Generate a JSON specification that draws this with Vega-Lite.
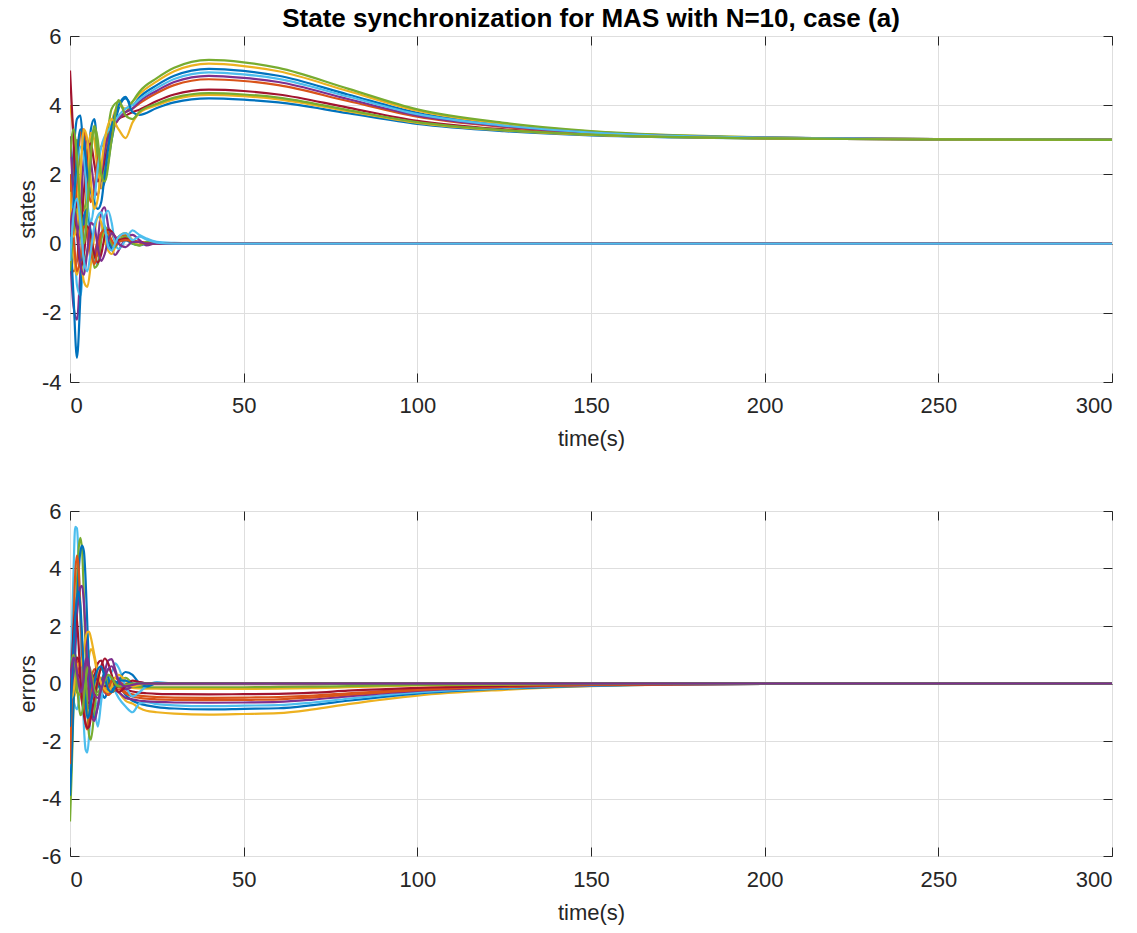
{
"$schema":"https://vega.github.io/schema/vega-lite/v6.json",
"padding":{"left":15,"top":5,"right":5,"bottom":5},
"spacing":49,
"config":{
 "view":{"stroke":"#262626","strokeWidth":1},
 "axis":{"domain":false,"tickSize":-9,"tickColor":"#262626","labelPadding":18,"labelFont":"Liberation Sans","labelFontSize":22,"labelColor":"#262626","labelExpr":"'' + datum.value","titleFont":"Liberation Sans","titleFontSize":22,"titleFontWeight":"normal","titleColor":"#262626","gridColor":"#dedede","gridWidth":1},
 "axisX":{"titlePadding":12,"labelPadding":22},
 "axisY":{"titlePadding":2}
},
"resolve":{"scale":{"color":"independent"}},
"datasets":{
"st":[
{"s":"U1","t":0,"v":1.0},{"s":"U1","t":1,"v":2.6},{"s":"U1","t":2,"v":3.6},{"s":"U1","t":3,"v":3.7},{"s":"U1","t":4,"v":2.6},{"s":"U1","t":5,"v":2.4},{"s":"U1","t":6,"v":3.3},{"s":"U1","t":7,"v":3.6},{"s":"U1","t":8,"v":2.6},{"s":"U1","t":9,"v":1.6},{"s":"U1","t":10,"v":1.8},{"s":"U1","t":12,"v":3.0},{"s":"U1","t":14,"v":3.9},{"s":"U1","t":16,"v":4.2},{"s":"U1","t":18,"v":4.0},{"s":"U1","t":20,"v":4.23},{"s":"U1","t":25,"v":4.58},{"s":"U1","t":30,"v":4.85},{"s":"U1","t":40,"v":5.05},{"s":"U1","t":50,"v":4.99},{"s":"U1","t":60,"v":4.85},{"s":"U1","t":80,"v":4.31},{"s":"U1","t":100,"v":3.78},{"s":"U1","t":125,"v":3.43},{"s":"U1","t":150,"v":3.23},{"s":"U1","t":200,"v":3.06},{"s":"U1","t":250,"v":3.02},{"s":"U1","t":300,"v":3.0},
{"s":"L1","t":0,"v":0.0},{"s":"L1","t":1,"v":-0.8},{"s":"L1","t":2,"v":-0.5},{"s":"L1","t":3,"v":0.6},{"s":"L1","t":4,"v":1.0},{"s":"L1","t":5,"v":0.3},{"s":"L1","t":6,"v":-0.5},{"s":"L1","t":7,"v":-0.3},{"s":"L1","t":8,"v":0.1},{"s":"L1","t":9,"v":0.3},{"s":"L1","t":10,"v":0.25},{"s":"L1","t":11,"v":0.45},{"s":"L1","t":12,"v":0.3},{"s":"L1","t":13,"v":0.1},{"s":"L1","t":14,"v":0.2},{"s":"L1","t":16,"v":0.25},{"s":"L1","t":18,"v":0.1},{"s":"L1","t":20,"v":0.05},{"s":"L1","t":22,"v":0.03},{"s":"L1","t":25,"v":0},{"s":"L1","t":30,"v":0},{"s":"L1","t":40,"v":0},{"s":"L1","t":300,"v":0},
{"s":"U2","t":0,"v":4.0},{"s":"U2","t":1,"v":3.2},{"s":"U2","t":2,"v":1.5},{"s":"U2","t":3,"v":0.2},{"s":"U2","t":4,"v":0.5},{"s":"U2","t":5,"v":2.0},{"s":"U2","t":6,"v":3.2},{"s":"U2","t":7,"v":3.0},{"s":"U2","t":8,"v":2.0},{"s":"U2","t":9,"v":1.6},{"s":"U2","t":10,"v":2.3},{"s":"U2","t":12,"v":3.5},{"s":"U2","t":14,"v":4.0},{"s":"U2","t":16,"v":3.9},{"s":"U2","t":18,"v":4.1},{"s":"U2","t":20,"v":4.32},{"s":"U2","t":25,"v":4.69},{"s":"U2","t":30,"v":4.98},{"s":"U2","t":40,"v":5.2},{"s":"U2","t":50,"v":5.13},{"s":"U2","t":60,"v":4.98},{"s":"U2","t":80,"v":4.41},{"s":"U2","t":100,"v":3.84},{"s":"U2","t":125,"v":3.46},{"s":"U2","t":150,"v":3.24},{"s":"U2","t":200,"v":3.07},{"s":"U2","t":250,"v":3.02},{"s":"U2","t":300,"v":3.0},
{"s":"L2","t":0,"v":-0.2},{"s":"L2","t":1,"v":-1.8},{"s":"L2","t":2,"v":-2.2},{"s":"L2","t":3,"v":-0.8},{"s":"L2","t":4,"v":0.6},{"s":"L2","t":5,"v":0.9},{"s":"L2","t":6,"v":0.2},{"s":"L2","t":7,"v":-0.5},{"s":"L2","t":8,"v":0.1},{"s":"L2","t":9,"v":0.9},{"s":"L2","t":10,"v":1.05},{"s":"L2","t":11,"v":0.5},{"s":"L2","t":12,"v":-0.1},{"s":"L2","t":13,"v":-0.33},{"s":"L2","t":14,"v":-0.2},{"s":"L2","t":16,"v":0.15},{"s":"L2","t":18,"v":0.25},{"s":"L2","t":20,"v":0.1},{"s":"L2","t":22,"v":-0.05},{"s":"L2","t":25,"v":0.02},{"s":"L2","t":30,"v":0},{"s":"L2","t":40,"v":0},{"s":"L2","t":300,"v":0},
{"s":"U3","t":0,"v":0.5},{"s":"U3","t":1,"v":2.0},{"s":"U3","t":2,"v":3.0},{"s":"U3","t":3,"v":2.2},{"s":"U3","t":4,"v":1.0},{"s":"U3","t":5,"v":1.5},{"s":"U3","t":6,"v":2.8},{"s":"U3","t":7,"v":3.3},{"s":"U3","t":8,"v":2.5},{"s":"U3","t":9,"v":1.8},{"s":"U3","t":10,"v":2.5},{"s":"U3","t":12,"v":3.9},{"s":"U3","t":14,"v":4.1},{"s":"U3","t":16,"v":3.8},{"s":"U3","t":18,"v":4.1},{"s":"U3","t":20,"v":4.39},{"s":"U3","t":25,"v":4.78},{"s":"U3","t":30,"v":5.08},{"s":"U3","t":40,"v":5.31},{"s":"U3","t":50,"v":5.24},{"s":"U3","t":60,"v":5.08},{"s":"U3","t":80,"v":4.48},{"s":"U3","t":100,"v":3.88},{"s":"U3","t":125,"v":3.49},{"s":"U3","t":150,"v":3.25},{"s":"U3","t":200,"v":3.07},{"s":"U3","t":250,"v":3.02},{"s":"U3","t":300,"v":3.0},
{"s":"L3","t":0,"v":1.5},{"s":"L3","t":1,"v":0.5},{"s":"L3","t":2,"v":-1.2},{"s":"L3","t":3,"v":-1.5},{"s":"L3","t":4,"v":-0.3},{"s":"L3","t":5,"v":0.7},{"s":"L3","t":6,"v":0.3},{"s":"L3","t":7,"v":-0.4},{"s":"L3","t":8,"v":-0.6},{"s":"L3","t":9,"v":0.2},{"s":"L3","t":10,"v":0.8},{"s":"L3","t":11,"v":0.95},{"s":"L3","t":12,"v":0.6},{"s":"L3","t":13,"v":0.0},{"s":"L3","t":14,"v":-0.15},{"s":"L3","t":16,"v":0.1},{"s":"L3","t":18,"v":0.38},{"s":"L3","t":20,"v":0.25},{"s":"L3","t":22,"v":0.15},{"s":"L3","t":25,"v":0.05},{"s":"L3","t":30,"v":0.02},{"s":"L3","t":40,"v":0},{"s":"L3","t":300,"v":0},
{"s":"U4","t":0,"v":5.0},{"s":"U4","t":1,"v":3.0},{"s":"U4","t":2,"v":0.8},{"s":"U4","t":3,"v":0.5},{"s":"U4","t":4,"v":1.5},{"s":"U4","t":5,"v":2.6},{"s":"U4","t":6,"v":2.9},{"s":"U4","t":7,"v":2.3},{"s":"U4","t":8,"v":1.8},{"s":"U4","t":9,"v":2.0},{"s":"U4","t":10,"v":2.4},{"s":"U4","t":12,"v":3.2},{"s":"U4","t":14,"v":3.6},{"s":"U4","t":16,"v":3.7},{"s":"U4","t":18,"v":3.8},{"s":"U4","t":20,"v":3.87},{"s":"U4","t":25,"v":4.12},{"s":"U4","t":30,"v":4.31},{"s":"U4","t":40,"v":4.45},{"s":"U4","t":50,"v":4.41},{"s":"U4","t":60,"v":4.31},{"s":"U4","t":80,"v":3.93},{"s":"U4","t":100,"v":3.55},{"s":"U4","t":125,"v":3.3},{"s":"U4","t":150,"v":3.16},{"s":"U4","t":200,"v":3.04},{"s":"U4","t":250,"v":3.01},{"s":"U4","t":300,"v":3.0},
{"s":"L4","t":0,"v":0.5},{"s":"L4","t":1,"v":-1.5},{"s":"L4","t":2,"v":-3.3},{"s":"L4","t":3,"v":-1.5},{"s":"L4","t":4,"v":0.8},{"s":"L4","t":5,"v":1.0},{"s":"L4","t":6,"v":0.3},{"s":"L4","t":7,"v":-0.4},{"s":"L4","t":8,"v":-0.3},{"s":"L4","t":9,"v":0.2},{"s":"L4","t":10,"v":0.35},{"s":"L4","t":11,"v":0.1},{"s":"L4","t":12,"v":-0.15},{"s":"L4","t":13,"v":-0.1},{"s":"L4","t":14,"v":0.05},{"s":"L4","t":16,"v":0.1},{"s":"L4","t":18,"v":0.0},{"s":"L4","t":20,"v":-0.05},{"s":"L4","t":22,"v":0},{"s":"L4","t":25,"v":0.02},{"s":"L4","t":30,"v":0},{"s":"L4","t":40,"v":0},{"s":"L4","t":300,"v":0},
{"s":"U5","t":0,"v":2.0},{"s":"U5","t":1,"v":1.0},{"s":"U5","t":2,"v":1.8},{"s":"U5","t":3,"v":3.2},{"s":"U5","t":4,"v":3.3},{"s":"U5","t":5,"v":2.0},{"s":"U5","t":6,"v":1.2},{"s":"U5","t":7,"v":1.6},{"s":"U5","t":8,"v":2.4},{"s":"U5","t":9,"v":2.8},{"s":"U5","t":10,"v":2.9},{"s":"U5","t":12,"v":3.3},{"s":"U5","t":14,"v":3.6},{"s":"U5","t":16,"v":3.8},{"s":"U5","t":18,"v":3.9},{"s":"U5","t":20,"v":4.05},{"s":"U5","t":25,"v":4.35},{"s":"U5","t":30,"v":4.58},{"s":"U5","t":40,"v":4.75},{"s":"U5","t":50,"v":4.7},{"s":"U5","t":60,"v":4.58},{"s":"U5","t":80,"v":4.12},{"s":"U5","t":100,"v":3.67},{"s":"U5","t":125,"v":3.37},{"s":"U5","t":150,"v":3.19},{"s":"U5","t":200,"v":3.05},{"s":"U5","t":250,"v":3.02},{"s":"U5","t":300,"v":3.0},
{"s":"L5","t":0,"v":0.8},{"s":"L5","t":1,"v":-0.3},{"s":"L5","t":2,"v":-0.9},{"s":"L5","t":3,"v":-0.5},{"s":"L5","t":4,"v":-1.1},{"s":"L5","t":5,"v":-1.25},{"s":"L5","t":6,"v":-0.6},{"s":"L5","t":7,"v":0.2},{"s":"L5","t":8,"v":0.8},{"s":"L5","t":9,"v":0.6},{"s":"L5","t":10,"v":0.1},{"s":"L5","t":11,"v":-0.2},{"s":"L5","t":12,"v":-0.3},{"s":"L5","t":13,"v":-0.1},{"s":"L5","t":14,"v":0.2},{"s":"L5","t":16,"v":0.3},{"s":"L5","t":18,"v":0.1},{"s":"L5","t":20,"v":-0.05},{"s":"L5","t":22,"v":0.05},{"s":"L5","t":25,"v":0},{"s":"L5","t":30,"v":0},{"s":"L5","t":40,"v":0},{"s":"L5","t":300,"v":0},
{"s":"U6","t":0,"v":3.1},{"s":"U6","t":1,"v":1.5},{"s":"U6","t":2,"v":0.3},{"s":"U6","t":3,"v":1.0},{"s":"U6","t":4,"v":2.5},{"s":"U6","t":5,"v":3.0},{"s":"U6","t":6,"v":2.4},{"s":"U6","t":7,"v":1.6},{"s":"U6","t":8,"v":1.4},{"s":"U6","t":9,"v":2.0},{"s":"U6","t":10,"v":2.7},{"s":"U6","t":12,"v":3.3},{"s":"U6","t":14,"v":3.6},{"s":"U6","t":16,"v":3.8},{"s":"U6","t":18,"v":3.9},{"s":"U6","t":20,"v":4.11},{"s":"U6","t":25,"v":4.42},{"s":"U6","t":30,"v":4.67},{"s":"U6","t":40,"v":4.85},{"s":"U6","t":50,"v":4.79},{"s":"U6","t":60,"v":4.67},{"s":"U6","t":80,"v":4.18},{"s":"U6","t":100,"v":3.7},{"s":"U6","t":125,"v":3.39},{"s":"U6","t":150,"v":3.2},{"s":"U6","t":200,"v":3.06},{"s":"U6","t":250,"v":3.02},{"s":"U6","t":300,"v":3.0},
{"s":"L6","t":0,"v":-0.8},{"s":"L6","t":1,"v":0.3},{"s":"L6","t":2,"v":1.0},{"s":"L6","t":3,"v":0.4},{"s":"L6","t":4,"v":-0.6},{"s":"L6","t":5,"v":-0.2},{"s":"L6","t":6,"v":0.2},{"s":"L6","t":7,"v":-0.7},{"s":"L6","t":8,"v":-0.6},{"s":"L6","t":9,"v":0.1},{"s":"L6","t":10,"v":0.5},{"s":"L6","t":11,"v":0.3},{"s":"L6","t":12,"v":0.0},{"s":"L6","t":13,"v":-0.1},{"s":"L6","t":14,"v":0.1},{"s":"L6","t":16,"v":0.2},{"s":"L6","t":18,"v":0.0},{"s":"L6","t":20,"v":-0.05},{"s":"L6","t":22,"v":0.05},{"s":"L6","t":25,"v":0},{"s":"L6","t":30,"v":0},{"s":"L6","t":40,"v":0},{"s":"L6","t":300,"v":0},
{"s":"U7","t":0,"v":0.0},{"s":"U7","t":1,"v":1.2},{"s":"U7","t":2,"v":2.2},{"s":"U7","t":3,"v":2.8},{"s":"U7","t":4,"v":2.5},{"s":"U7","t":5,"v":1.2},{"s":"U7","t":6,"v":0.6},{"s":"U7","t":7,"v":1.2},{"s":"U7","t":8,"v":2.2},{"s":"U7","t":9,"v":2.8},{"s":"U7","t":10,"v":3.1},{"s":"U7","t":12,"v":3.4},{"s":"U7","t":14,"v":3.7},{"s":"U7","t":16,"v":3.9},{"s":"U7","t":18,"v":4.0},{"s":"U7","t":20,"v":4.17},{"s":"U7","t":25,"v":4.5},{"s":"U7","t":30,"v":4.76},{"s":"U7","t":40,"v":4.95},{"s":"U7","t":50,"v":4.89},{"s":"U7","t":60,"v":4.76},{"s":"U7","t":80,"v":4.25},{"s":"U7","t":100,"v":3.74},{"s":"U7","t":125,"v":3.41},{"s":"U7","t":150,"v":3.21},{"s":"U7","t":200,"v":3.06},{"s":"U7","t":250,"v":3.02},{"s":"U7","t":300,"v":3.0},
{"s":"L7","t":0,"v":0.2},{"s":"L7","t":1,"v":1.0},{"s":"L7","t":2,"v":0.3},{"s":"L7","t":3,"v":-0.7},{"s":"L7","t":4,"v":-0.3},{"s":"L7","t":5,"v":0.5},{"s":"L7","t":6,"v":0.2},{"s":"L7","t":7,"v":-0.3},{"s":"L7","t":8,"v":-0.55},{"s":"L7","t":9,"v":-0.3},{"s":"L7","t":10,"v":0.2},{"s":"L7","t":11,"v":0.4},{"s":"L7","t":12,"v":0.35},{"s":"L7","t":13,"v":0.2},{"s":"L7","t":14,"v":0.1},{"s":"L7","t":16,"v":0.15},{"s":"L7","t":18,"v":0.05},{"s":"L7","t":20,"v":0.05},{"s":"L7","t":22,"v":0},{"s":"L7","t":25,"v":0},{"s":"L7","t":30,"v":0},{"s":"L7","t":40,"v":0},{"s":"L7","t":300,"v":0},
{"s":"U8","t":0,"v":-0.5},{"s":"U8","t":1,"v":1.0},{"s":"U8","t":2,"v":2.5},{"s":"U8","t":3,"v":3.3},{"s":"U8","t":4,"v":3.0},{"s":"U8","t":5,"v":2.0},{"s":"U8","t":6,"v":1.5},{"s":"U8","t":7,"v":1.2},{"s":"U8","t":8,"v":1.0},{"s":"U8","t":9,"v":1.2},{"s":"U8","t":10,"v":2.0},{"s":"U8","t":12,"v":3.4},{"s":"U8","t":14,"v":4.0},{"s":"U8","t":16,"v":4.24},{"s":"U8","t":18,"v":3.8},{"s":"U8","t":20,"v":3.72},{"s":"U8","t":25,"v":3.92},{"s":"U8","t":30,"v":4.08},{"s":"U8","t":40,"v":4.2},{"s":"U8","t":50,"v":4.16},{"s":"U8","t":60,"v":4.08},{"s":"U8","t":80,"v":3.77},{"s":"U8","t":100,"v":3.46},{"s":"U8","t":125,"v":3.25},{"s":"U8","t":150,"v":3.13},{"s":"U8","t":200,"v":3.04},{"s":"U8","t":250,"v":3.01},{"s":"U8","t":300,"v":3.0},
{"s":"L8","t":0,"v":1.0},{"s":"L8","t":1,"v":0.2},{"s":"L8","t":2,"v":-0.8},{"s":"L8","t":3,"v":-0.4},{"s":"L8","t":4,"v":0.5},{"s":"L8","t":5,"v":0.4},{"s":"L8","t":6,"v":-0.2},{"s":"L8","t":7,"v":-0.6},{"s":"L8","t":8,"v":-0.2},{"s":"L8","t":9,"v":0.3},{"s":"L8","t":10,"v":0.4},{"s":"L8","t":11,"v":0.3},{"s":"L8","t":12,"v":0.1},{"s":"L8","t":13,"v":-0.05},{"s":"L8","t":14,"v":0.05},{"s":"L8","t":16,"v":0.1},{"s":"L8","t":18,"v":0.08},{"s":"L8","t":20,"v":0.03},{"s":"L8","t":22,"v":0},{"s":"L8","t":25,"v":0},{"s":"L8","t":30,"v":0},{"s":"L8","t":40,"v":0},{"s":"L8","t":300,"v":0},
{"s":"U9","t":0,"v":1.5},{"s":"U9","t":1,"v":0.2},{"s":"U9","t":2,"v":0.5},{"s":"U9","t":3,"v":2.0},{"s":"U9","t":4,"v":3.3},{"s":"U9","t":5,"v":3.0},{"s":"U9","t":6,"v":1.8},{"s":"U9","t":7,"v":1.0},{"s":"U9","t":8,"v":1.3},{"s":"U9","t":9,"v":2.2},{"s":"U9","t":10,"v":3.0},{"s":"U9","t":12,"v":3.6},{"s":"U9","t":14,"v":3.3},{"s":"U9","t":16,"v":3.05},{"s":"U9","t":18,"v":3.5},{"s":"U9","t":20,"v":3.78},{"s":"U9","t":25,"v":4.0},{"s":"U9","t":30,"v":4.17},{"s":"U9","t":40,"v":4.3},{"s":"U9","t":50,"v":4.26},{"s":"U9","t":60,"v":4.17},{"s":"U9","t":80,"v":3.83},{"s":"U9","t":100,"v":3.49},{"s":"U9","t":125,"v":3.27},{"s":"U9","t":150,"v":3.14},{"s":"U9","t":200,"v":3.04},{"s":"U9","t":250,"v":3.01},{"s":"U9","t":300,"v":3.0},
{"s":"L9","t":0,"v":0.3},{"s":"L9","t":1,"v":1.0},{"s":"L9","t":2,"v":0.5},{"s":"L9","t":3,"v":-0.6},{"s":"L9","t":4,"v":-0.9},{"s":"L9","t":5,"v":-0.2},{"s":"L9","t":6,"v":0.6},{"s":"L9","t":7,"v":0.5},{"s":"L9","t":8,"v":-0.1},{"s":"L9","t":9,"v":-0.5},{"s":"L9","t":10,"v":-0.3},{"s":"L9","t":11,"v":0.1},{"s":"L9","t":12,"v":0.3},{"s":"L9","t":13,"v":0.2},{"s":"L9","t":14,"v":0.0},{"s":"L9","t":16,"v":-0.1},{"s":"L9","t":18,"v":0.05},{"s":"L9","t":20,"v":0.05},{"s":"L9","t":22,"v":0},{"s":"L9","t":25,"v":0},{"s":"L9","t":30,"v":0},{"s":"L9","t":40,"v":0},{"s":"L9","t":300,"v":0},
{"s":"U10","t":0,"v":2.5},{"s":"U10","t":1,"v":3.3},{"s":"U10","t":2,"v":2.5},{"s":"U10","t":3,"v":1.0},{"s":"U10","t":4,"v":0.0},{"s":"U10","t":5,"v":1.0},{"s":"U10","t":6,"v":2.5},{"s":"U10","t":7,"v":3.4},{"s":"U10","t":8,"v":3.0},{"s":"U10","t":9,"v":2.0},{"s":"U10","t":10,"v":1.8},{"s":"U10","t":12,"v":3.0},{"s":"U10","t":14,"v":4.15},{"s":"U10","t":16,"v":3.7},{"s":"U10","t":18,"v":3.6},{"s":"U10","t":20,"v":3.81},{"s":"U10","t":25,"v":4.04},{"s":"U10","t":30,"v":4.22},{"s":"U10","t":40,"v":4.35},{"s":"U10","t":50,"v":4.31},{"s":"U10","t":60,"v":4.22},{"s":"U10","t":80,"v":3.86},{"s":"U10","t":100,"v":3.51},{"s":"U10","t":125,"v":3.28},{"s":"U10","t":150,"v":3.15},{"s":"U10","t":200,"v":3.04},{"s":"U10","t":250,"v":3.01},{"s":"U10","t":300,"v":3.0},
{"s":"L10","t":0,"v":-0.5},{"s":"L10","t":1,"v":0.8},{"s":"L10","t":2,"v":1.3},{"s":"L10","t":3,"v":0.6},{"s":"L10","t":4,"v":-0.5},{"s":"L10","t":5,"v":-0.8},{"s":"L10","t":6,"v":-0.2},{"s":"L10","t":7,"v":0.5},{"s":"L10","t":8,"v":0.8},{"s":"L10","t":9,"v":0.9},{"s":"L10","t":10,"v":0.5},{"s":"L10","t":11,"v":-0.1},{"s":"L10","t":12,"v":-0.2},{"s":"L10","t":13,"v":0.0},{"s":"L10","t":14,"v":0.2},{"s":"L10","t":16,"v":0.3},{"s":"L10","t":18,"v":0.1},{"s":"L10","t":20,"v":0.2},{"s":"L10","t":22,"v":0.12},{"s":"L10","t":25,"v":0.03},{"s":"L10","t":30,"v":0},{"s":"L10","t":40,"v":0},{"s":"L10","t":300,"v":0}
],
"er":[
{"s":"E1","t":0,"v":-0.5},{"s":"E1","t":1,"v":0.3},{"s":"E1","t":2,"v":0.9},{"s":"E1","t":3,"v":0.5},{"s":"E1","t":4,"v":0.2},{"s":"E1","t":5,"v":0.6},{"s":"E1","t":6,"v":1.2},{"s":"E1","t":7,"v":0.9},{"s":"E1","t":8,"v":0.2},{"s":"E1","t":9,"v":-0.3},{"s":"E1","t":10,"v":-0.2},{"s":"E1","t":11,"v":0.1},{"s":"E1","t":12,"v":0.0},{"s":"E1","t":14,"v":-0.3},{"s":"E1","t":16,"v":-0.6},{"s":"E1","t":18,"v":-0.7},{"s":"E1","t":20,"v":-0.85},{"s":"E1","t":22,"v":-0.95},{"s":"E1","t":25,"v":-1.0},{"s":"E1","t":30,"v":-1.05},{"s":"E1","t":40,"v":-1.08},{"s":"E1","t":50,"v":-1.06},{"s":"E1","t":60,"v":-1.03},{"s":"E1","t":70,"v":-0.9},{"s":"E1","t":80,"v":-0.72},{"s":"E1","t":100,"v":-0.42},{"s":"E1","t":125,"v":-0.22},{"s":"E1","t":150,"v":-0.09},{"s":"E1","t":200,"v":-0.01},{"s":"E1","t":300,"v":0},
{"s":"E2","t":0,"v":-1.0},{"s":"E2","t":1,"v":-0.2},{"s":"E2","t":2,"v":0.4},{"s":"E2","t":3,"v":0.2},{"s":"E2","t":4,"v":-0.3},{"s":"E2","t":5,"v":-0.4},{"s":"E2","t":6,"v":0.0},{"s":"E2","t":7,"v":0.3},{"s":"E2","t":8,"v":0.0},{"s":"E2","t":9,"v":-0.3},{"s":"E2","t":10,"v":-0.5},{"s":"E2","t":11,"v":-0.2},{"s":"E2","t":12,"v":0.1},{"s":"E2","t":14,"v":0.0},{"s":"E2","t":16,"v":-0.4},{"s":"E2","t":18,"v":-0.6},{"s":"E2","t":20,"v":-0.7},{"s":"E2","t":22,"v":-0.76},{"s":"E2","t":25,"v":-0.82},{"s":"E2","t":30,"v":-0.87},{"s":"E2","t":40,"v":-0.9},{"s":"E2","t":50,"v":-0.88},{"s":"E2","t":60,"v":-0.86},{"s":"E2","t":70,"v":-0.75},{"s":"E2","t":80,"v":-0.6},{"s":"E2","t":100,"v":-0.35},{"s":"E2","t":125,"v":-0.18},{"s":"E2","t":150,"v":-0.08},{"s":"E2","t":200,"v":-0.01},{"s":"E2","t":300,"v":0},
{"s":"E3","t":0,"v":0.0},{"s":"E3","t":1,"v":-0.6},{"s":"E3","t":2,"v":-0.9},{"s":"E3","t":3,"v":-0.3},{"s":"E3","t":4,"v":0.4},{"s":"E3","t":5,"v":0.6},{"s":"E3","t":6,"v":0.1},{"s":"E3","t":7,"v":-0.5},{"s":"E3","t":8,"v":-0.8},{"s":"E3","t":9,"v":-0.5},{"s":"E3","t":10,"v":0.1},{"s":"E3","t":11,"v":0.3},{"s":"E3","t":12,"v":0.0},{"s":"E3","t":14,"v":-0.5},{"s":"E3","t":16,"v":-0.8},{"s":"E3","t":18,"v":-1.0},{"s":"E3","t":20,"v":-0.7},{"s":"E3","t":22,"v":-0.65},{"s":"E3","t":25,"v":-0.72},{"s":"E3","t":30,"v":-0.76},{"s":"E3","t":40,"v":-0.79},{"s":"E3","t":50,"v":-0.77},{"s":"E3","t":60,"v":-0.75},{"s":"E3","t":70,"v":-0.66},{"s":"E3","t":80,"v":-0.53},{"s":"E3","t":100,"v":-0.31},{"s":"E3","t":125,"v":-0.16},{"s":"E3","t":150,"v":-0.07},{"s":"E3","t":200,"v":-0.01},{"s":"E3","t":300,"v":0},
{"s":"E4","t":0,"v":-0.3},{"s":"E4","t":1,"v":0.4},{"s":"E4","t":2,"v":0.6},{"s":"E4","t":3,"v":0.1},{"s":"E4","t":4,"v":-0.6},{"s":"E4","t":5,"v":-0.9},{"s":"E4","t":6,"v":-0.5},{"s":"E4","t":7,"v":0.1},{"s":"E4","t":8,"v":0.3},{"s":"E4","t":9,"v":0.0},{"s":"E4","t":10,"v":-0.3},{"s":"E4","t":11,"v":-0.4},{"s":"E4","t":12,"v":-0.2},{"s":"E4","t":14,"v":-0.3},{"s":"E4","t":16,"v":-0.5},{"s":"E4","t":18,"v":-0.55},{"s":"E4","t":20,"v":-0.6},{"s":"E4","t":22,"v":-0.62},{"s":"E4","t":25,"v":-0.64},{"s":"E4","t":30,"v":-0.66},{"s":"E4","t":40,"v":-0.67},{"s":"E4","t":50,"v":-0.66},{"s":"E4","t":60,"v":-0.64},{"s":"E4","t":70,"v":-0.56},{"s":"E4","t":80,"v":-0.45},{"s":"E4","t":100,"v":-0.26},{"s":"E4","t":125,"v":-0.13},{"s":"E4","t":150,"v":-0.06},{"s":"E4","t":200,"v":-0.01},{"s":"E4","t":300,"v":0},
{"s":"E5","t":0,"v":-2.0},{"s":"E5","t":1,"v":-0.5},{"s":"E5","t":2,"v":0.6},{"s":"E5","t":3,"v":0.9},{"s":"E5","t":4,"v":0.3},{"s":"E5","t":5,"v":-0.4},{"s":"E5","t":6,"v":-0.6},{"s":"E5","t":7,"v":-0.2},{"s":"E5","t":8,"v":0.2},{"s":"E5","t":9,"v":0.1},{"s":"E5","t":10,"v":-0.2},{"s":"E5","t":11,"v":-0.4},{"s":"E5","t":12,"v":-0.3},{"s":"E5","t":14,"v":-0.2},{"s":"E5","t":16,"v":-0.35},{"s":"E5","t":18,"v":-0.45},{"s":"E5","t":20,"v":-0.5},{"s":"E5","t":22,"v":-0.53},{"s":"E5","t":25,"v":-0.55},{"s":"E5","t":30,"v":-0.57},{"s":"E5","t":40,"v":-0.58},{"s":"E5","t":50,"v":-0.57},{"s":"E5","t":60,"v":-0.55},{"s":"E5","t":70,"v":-0.48},{"s":"E5","t":80,"v":-0.39},{"s":"E5","t":100,"v":-0.23},{"s":"E5","t":125,"v":-0.12},{"s":"E5","t":150,"v":-0.05},{"s":"E5","t":200,"v":-0.01},{"s":"E5","t":300,"v":0},
{"s":"E6","t":0,"v":0.5},{"s":"E6","t":1,"v":1.2},{"s":"E6","t":2,"v":0.7},{"s":"E6","t":3,"v":-0.3},{"s":"E6","t":4,"v":-0.9},{"s":"E6","t":5,"v":-0.6},{"s":"E6","t":6,"v":0.1},{"s":"E6","t":7,"v":0.5},{"s":"E6","t":8,"v":0.3},{"s":"E6","t":9,"v":-0.1},{"s":"E6","t":10,"v":-0.3},{"s":"E6","t":11,"v":-0.1},{"s":"E6","t":12,"v":0.1},{"s":"E6","t":14,"v":-0.1},{"s":"E6","t":16,"v":-0.3},{"s":"E6","t":18,"v":-0.38},{"s":"E6","t":20,"v":-0.42},{"s":"E6","t":22,"v":-0.45},{"s":"E6","t":25,"v":-0.47},{"s":"E6","t":30,"v":-0.49},{"s":"E6","t":40,"v":-0.5},{"s":"E6","t":50,"v":-0.49},{"s":"E6","t":60,"v":-0.47},{"s":"E6","t":70,"v":-0.42},{"s":"E6","t":80,"v":-0.34},{"s":"E6","t":100,"v":-0.2},{"s":"E6","t":125,"v":-0.1},{"s":"E6","t":150,"v":-0.04},{"s":"E6","t":200,"v":0},{"s":"E6","t":300,"v":0},
{"s":"E7","t":0,"v":-0.6},{"s":"E7","t":1,"v":0.2},{"s":"E7","t":2,"v":0.9},{"s":"E7","t":3,"v":0.6},{"s":"E7","t":4,"v":-0.2},{"s":"E7","t":5,"v":-0.7},{"s":"E7","t":6,"v":-0.5},{"s":"E7","t":7,"v":0.2},{"s":"E7","t":8,"v":0.7},{"s":"E7","t":9,"v":0.8},{"s":"E7","t":10,"v":0.4},{"s":"E7","t":11,"v":-0.1},{"s":"E7","t":12,"v":-0.3},{"s":"E7","t":14,"v":-0.1},{"s":"E7","t":16,"v":-0.2},{"s":"E7","t":18,"v":-0.28},{"s":"E7","t":20,"v":-0.32},{"s":"E7","t":22,"v":-0.34},{"s":"E7","t":25,"v":-0.36},{"s":"E7","t":30,"v":-0.37},{"s":"E7","t":40,"v":-0.38},{"s":"E7","t":50,"v":-0.37},{"s":"E7","t":60,"v":-0.36},{"s":"E7","t":70,"v":-0.32},{"s":"E7","t":80,"v":-0.25},{"s":"E7","t":100,"v":-0.15},{"s":"E7","t":125,"v":-0.08},{"s":"E7","t":150,"v":-0.03},{"s":"E7","t":200,"v":0},{"s":"E7","t":300,"v":0},
{"s":"E8","t":0,"v":-0.2},{"s":"E8","t":1,"v":-0.5},{"s":"E8","t":2,"v":-0.1},{"s":"E8","t":3,"v":0.3},{"s":"E8","t":4,"v":0.2},{"s":"E8","t":5,"v":-0.2},{"s":"E8","t":6,"v":-0.4},{"s":"E8","t":7,"v":-0.1},{"s":"E8","t":8,"v":0.2},{"s":"E8","t":9,"v":0.2},{"s":"E8","t":10,"v":0.0},{"s":"E8","t":11,"v":-0.2},{"s":"E8","t":12,"v":-0.15},{"s":"E8","t":14,"v":0.0},{"s":"E8","t":16,"v":-0.1},{"s":"E8","t":18,"v":-0.15},{"s":"E8","t":20,"v":-0.17},{"s":"E8","t":22,"v":-0.18},{"s":"E8","t":25,"v":-0.18},{"s":"E8","t":30,"v":-0.19},{"s":"E8","t":40,"v":-0.19},{"s":"E8","t":50,"v":-0.19},{"s":"E8","t":60,"v":-0.18},{"s":"E8","t":70,"v":-0.16},{"s":"E8","t":80,"v":-0.13},{"s":"E8","t":100,"v":-0.07},{"s":"E8","t":125,"v":-0.04},{"s":"E8","t":150,"v":-0.02},{"s":"E8","t":200,"v":0},{"s":"E8","t":300,"v":0},
{"s":"E9","t":0,"v":0.4},{"s":"E9","t":1,"v":0.1},{"s":"E9","t":2,"v":-0.3},{"s":"E9","t":3,"v":-0.4},{"s":"E9","t":4,"v":0.0},{"s":"E9","t":5,"v":0.3},{"s":"E9","t":6,"v":0.2},{"s":"E9","t":7,"v":-0.2},{"s":"E9","t":8,"v":-0.3},{"s":"E9","t":9,"v":-0.1},{"s":"E9","t":10,"v":0.1},{"s":"E9","t":11,"v":0.1},{"s":"E9","t":12,"v":0.0},{"s":"E9","t":14,"v":-0.1},{"s":"E9","t":16,"v":-0.1},{"s":"E9","t":18,"v":-0.12},{"s":"E9","t":20,"v":-0.12},{"s":"E9","t":22,"v":-0.13},{"s":"E9","t":25,"v":-0.13},{"s":"E9","t":30,"v":-0.13},{"s":"E9","t":40,"v":-0.13},{"s":"E9","t":50,"v":-0.13},{"s":"E9","t":60,"v":-0.12},{"s":"E9","t":70,"v":-0.11},{"s":"E9","t":80,"v":-0.09},{"s":"E9","t":100,"v":-0.05},{"s":"E9","t":125,"v":-0.03},{"s":"E9","t":150,"v":-0.01},{"s":"E9","t":200,"v":0},{"s":"E9","t":300,"v":0},
{"s":"E10","t":0,"v":-0.3},{"s":"E10","t":1,"v":0.0},{"s":"E10","t":2,"v":0.3},{"s":"E10","t":3,"v":0.2},{"s":"E10","t":4,"v":-0.1},{"s":"E10","t":5,"v":-0.2},{"s":"E10","t":6,"v":0.0},{"s":"E10","t":7,"v":0.2},{"s":"E10","t":8,"v":0.1},{"s":"E10","t":9,"v":-0.1},{"s":"E10","t":10,"v":-0.1},{"s":"E10","t":11,"v":0.0},{"s":"E10","t":12,"v":0.05},{"s":"E10","t":14,"v":0.0},{"s":"E10","t":16,"v":-0.01},{"s":"E10","t":18,"v":-0.02},{"s":"E10","t":20,"v":-0.02},{"s":"E10","t":22,"v":-0.02},{"s":"E10","t":25,"v":-0.02},{"s":"E10","t":30,"v":-0.02},{"s":"E10","t":40,"v":-0.02},{"s":"E10","t":50,"v":-0.02},{"s":"E10","t":60,"v":-0.02},{"s":"E10","t":70,"v":-0.02},{"s":"E10","t":80,"v":-0.01},{"s":"E10","t":100,"v":-0.01},{"s":"E10","t":125,"v":0},{"s":"E10","t":150,"v":0},{"s":"E10","t":200,"v":0},{"s":"E10","t":300,"v":0},
{"s":"E11","t":0,"v":-0.5},{"s":"E11","t":0.5,"v":1.5},{"s":"E11","t":1,"v":3.8},{"s":"E11","t":1.5,"v":5.45},{"s":"E11","t":2,"v":5.4},{"s":"E11","t":2.5,"v":4.2},{"s":"E11","t":3,"v":2.0},{"s":"E11","t":3.5,"v":0.0},{"s":"E11","t":4,"v":-1.5},{"s":"E11","t":4.5,"v":-2.3},{"s":"E11","t":5,"v":-2.4},{"s":"E11","t":5.5,"v":-1.8},{"s":"E11","t":6,"v":-0.8},{"s":"E11","t":7,"v":-0.9},{"s":"E11","t":8,"v":-1.5},{"s":"E11","t":9,"v":-0.6},{"s":"E11","t":10,"v":0.3},{"s":"E11","t":11,"v":0.5},{"s":"E11","t":12,"v":0.4},{"s":"E11","t":13,"v":0.7},{"s":"E11","t":14,"v":0.55},{"s":"E11","t":16,"v":-0.1},{"s":"E11","t":18,"v":-0.45},{"s":"E11","t":20,"v":-0.3},{"s":"E11","t":22,"v":-0.1},{"s":"E11","t":25,"v":0.05},{"s":"E11","t":30,"v":0},{"s":"E11","t":300,"v":0},
{"s":"E12","t":0,"v":-4.8},{"s":"E12","t":0.5,"v":-3.0},{"s":"E12","t":1,"v":-0.8},{"s":"E12","t":1.5,"v":1.5},{"s":"E12","t":2,"v":3.5},{"s":"E12","t":2.5,"v":4.7},{"s":"E12","t":3,"v":5.07},{"s":"E12","t":3.5,"v":4.6},{"s":"E12","t":4,"v":3.0},{"s":"E12","t":4.5,"v":1.0},{"s":"E12","t":5,"v":-0.8},{"s":"E12","t":5.5,"v":-1.8},{"s":"E12","t":6,"v":-1.95},{"s":"E12","t":7,"v":-1.0},{"s":"E12","t":8,"v":0.1},{"s":"E12","t":9,"v":0.5},{"s":"E12","t":10,"v":0.3},{"s":"E12","t":11,"v":-0.1},{"s":"E12","t":12,"v":-0.3},{"s":"E12","t":13,"v":-0.2},{"s":"E12","t":14,"v":0.1},{"s":"E12","t":16,"v":0.2},{"s":"E12","t":18,"v":0.0},{"s":"E12","t":20,"v":-0.1},{"s":"E12","t":22,"v":-0.05},{"s":"E12","t":25,"v":0},{"s":"E12","t":30,"v":0},{"s":"E12","t":300,"v":0},
{"s":"E13","t":0,"v":-3.9},{"s":"E13","t":0.5,"v":-2.5},{"s":"E13","t":1,"v":-0.7},{"s":"E13","t":1.5,"v":1.0},{"s":"E13","t":2,"v":2.6},{"s":"E13","t":2.5,"v":3.9},{"s":"E13","t":3,"v":4.6},{"s":"E13","t":3.5,"v":4.8},{"s":"E13","t":4,"v":4.6},{"s":"E13","t":4.5,"v":3.6},{"s":"E13","t":5,"v":2.0},{"s":"E13","t":5.5,"v":0.5},{"s":"E13","t":6,"v":-0.5},{"s":"E13","t":7,"v":-1.2},{"s":"E13","t":8,"v":-0.8},{"s":"E13","t":9,"v":0.0},{"s":"E13","t":10,"v":0.4},{"s":"E13","t":11,"v":0.2},{"s":"E13","t":12,"v":-0.2},{"s":"E13","t":13,"v":-0.1},{"s":"E13","t":14,"v":0.1},{"s":"E13","t":16,"v":0.4},{"s":"E13","t":18,"v":0.3},{"s":"E13","t":20,"v":0.0},{"s":"E13","t":22,"v":-0.1},{"s":"E13","t":25,"v":0},{"s":"E13","t":30,"v":0},{"s":"E13","t":300,"v":0},
{"s":"E14","t":0,"v":-2.8},{"s":"E14","t":0.5,"v":-0.5},{"s":"E14","t":1,"v":2.0},{"s":"E14","t":1.5,"v":3.8},{"s":"E14","t":2,"v":4.45},{"s":"E14","t":2.5,"v":4.0},{"s":"E14","t":3,"v":2.6},{"s":"E14","t":3.5,"v":0.9},{"s":"E14","t":4,"v":-0.6},{"s":"E14","t":4.5,"v":-1.4},{"s":"E14","t":5,"v":-1.6},{"s":"E14","t":5.5,"v":-1.2},{"s":"E14","t":6,"v":-0.5},{"s":"E14","t":7,"v":0.2},{"s":"E14","t":8,"v":0.3},{"s":"E14","t":9,"v":0.0},{"s":"E14","t":10,"v":-0.3},{"s":"E14","t":11,"v":-0.2},{"s":"E14","t":12,"v":0.1},{"s":"E14","t":13,"v":0.2},{"s":"E14","t":14,"v":0.1},{"s":"E14","t":16,"v":-0.1},{"s":"E14","t":18,"v":-0.05},{"s":"E14","t":20,"v":0},{"s":"E14","t":22,"v":0},{"s":"E14","t":25,"v":0},{"s":"E14","t":30,"v":0},{"s":"E14","t":300,"v":0},
{"s":"E15","t":0,"v":-0.8},{"s":"E15","t":0.5,"v":-0.3},{"s":"E15","t":1,"v":0.5},{"s":"E15","t":1.5,"v":1.5},{"s":"E15","t":2,"v":2.4},{"s":"E15","t":2.5,"v":3.0},{"s":"E15","t":3,"v":3.35},{"s":"E15","t":3.5,"v":3.4},{"s":"E15","t":4,"v":2.8},{"s":"E15","t":4.5,"v":1.8},{"s":"E15","t":5,"v":0.6},{"s":"E15","t":5.5,"v":-0.4},{"s":"E15","t":6,"v":-1.0},{"s":"E15","t":7,"v":-1.3},{"s":"E15","t":8,"v":-0.8},{"s":"E15","t":9,"v":-0.1},{"s":"E15","t":10,"v":0.4},{"s":"E15","t":11,"v":0.8},{"s":"E15","t":12,"v":0.85},{"s":"E15","t":13,"v":0.5},{"s":"E15","t":14,"v":0.1},{"s":"E15","t":16,"v":-0.2},{"s":"E15","t":18,"v":-0.1},{"s":"E15","t":20,"v":0.05},{"s":"E15","t":22,"v":0},{"s":"E15","t":25,"v":0},{"s":"E15","t":30,"v":0},{"s":"E15","t":300,"v":0},
{"s":"E16","t":0,"v":-0.4},{"s":"E16","t":0.5,"v":-0.5},{"s":"E16","t":1,"v":-0.3},{"s":"E16","t":1.5,"v":0.2},{"s":"E16","t":2,"v":0.6},{"s":"E16","t":2.5,"v":0.7},{"s":"E16","t":3,"v":0.6},{"s":"E16","t":3.5,"v":0.8},{"s":"E16","t":4,"v":1.2},{"s":"E16","t":4.5,"v":1.6},{"s":"E16","t":5,"v":1.8},{"s":"E16","t":5.5,"v":1.8},{"s":"E16","t":6,"v":1.6},{"s":"E16","t":7,"v":1.0},{"s":"E16","t":8,"v":0.4},{"s":"E16","t":9,"v":0.0},{"s":"E16","t":10,"v":-0.2},{"s":"E16","t":11,"v":-0.3},{"s":"E16","t":12,"v":-0.1},{"s":"E16","t":13,"v":0.2},{"s":"E16","t":14,"v":0.3},{"s":"E16","t":16,"v":0.1},{"s":"E16","t":18,"v":-0.1},{"s":"E16","t":20,"v":-0.05},{"s":"E16","t":22,"v":0},{"s":"E16","t":25,"v":0},{"s":"E16","t":30,"v":0},{"s":"E16","t":300,"v":0},
{"s":"E17","t":0,"v":-1.0},{"s":"E17","t":0.5,"v":0.5},{"s":"E17","t":1,"v":1.8},{"s":"E17","t":1.5,"v":2.5},{"s":"E17","t":2,"v":2.2},{"s":"E17","t":2.5,"v":1.3},{"s":"E17","t":3,"v":0.2},{"s":"E17","t":3.5,"v":-0.6},{"s":"E17","t":4,"v":-1.1},{"s":"E17","t":4.5,"v":-1.4},{"s":"E17","t":5,"v":-1.55},{"s":"E17","t":5.5,"v":-1.5},{"s":"E17","t":6,"v":-1.2},{"s":"E17","t":7,"v":-0.5},{"s":"E17","t":8,"v":0.1},{"s":"E17","t":9,"v":0.6},{"s":"E17","t":10,"v":0.87},{"s":"E17","t":11,"v":0.7},{"s":"E17","t":12,"v":0.3},{"s":"E17","t":13,"v":-0.1},{"s":"E17","t":14,"v":-0.3},{"s":"E17","t":16,"v":-0.1},{"s":"E17","t":18,"v":0.1},{"s":"E17","t":20,"v":0.05},{"s":"E17","t":22,"v":0},{"s":"E17","t":25,"v":0},{"s":"E17","t":30,"v":0},{"s":"E17","t":300,"v":0},
{"s":"E18","t":0,"v":-1.5},{"s":"E18","t":0.5,"v":0.0},{"s":"E18","t":1,"v":1.3},{"s":"E18","t":1.5,"v":2.3},{"s":"E18","t":2,"v":3.0},{"s":"E18","t":2.5,"v":3.2},{"s":"E18","t":3,"v":2.7},{"s":"E18","t":3.5,"v":1.6},{"s":"E18","t":4,"v":0.3},{"s":"E18","t":4.5,"v":-0.7},{"s":"E18","t":5,"v":-1.2},{"s":"E18","t":5.5,"v":-1.1},{"s":"E18","t":6,"v":-0.7},{"s":"E18","t":7,"v":0.0},{"s":"E18","t":8,"v":0.5},{"s":"E18","t":9,"v":0.6},{"s":"E18","t":10,"v":0.2},{"s":"E18","t":11,"v":-0.2},{"s":"E18","t":12,"v":-0.3},{"s":"E18","t":13,"v":-0.1},{"s":"E18","t":14,"v":0.1},{"s":"E18","t":16,"v":0.1},{"s":"E18","t":18,"v":0},{"s":"E18","t":20,"v":0},{"s":"E18","t":22,"v":0},{"s":"E18","t":25,"v":0},{"s":"E18","t":30,"v":0},{"s":"E18","t":300,"v":0},
{"s":"E19","t":0,"v":0.3},{"s":"E19","t":0.5,"v":0.8},{"s":"E19","t":1,"v":1.0},{"s":"E19","t":1.5,"v":0.7},{"s":"E19","t":2,"v":0.0},{"s":"E19","t":2.5,"v":-0.7},{"s":"E19","t":3,"v":-1.1},{"s":"E19","t":3.5,"v":-1.0},{"s":"E19","t":4,"v":-0.5},{"s":"E19","t":4.5,"v":0.1},{"s":"E19","t":5,"v":0.5},{"s":"E19","t":5.5,"v":0.6},{"s":"E19","t":6,"v":0.4},{"s":"E19","t":7,"v":-0.2},{"s":"E19","t":8,"v":-0.4},{"s":"E19","t":9,"v":-0.2},{"s":"E19","t":10,"v":0.1},{"s":"E19","t":11,"v":0.3},{"s":"E19","t":12,"v":0.2},{"s":"E19","t":13,"v":0.0},{"s":"E19","t":14,"v":-0.1},{"s":"E19","t":16,"v":-0.05},{"s":"E19","t":18,"v":0},{"s":"E19","t":20,"v":0},{"s":"E19","t":22,"v":0},{"s":"E19","t":25,"v":0},{"s":"E19","t":30,"v":0},{"s":"E19","t":300,"v":0},
{"s":"E20","t":0,"v":0.2},{"s":"E20","t":0.5,"v":0.6},{"s":"E20","t":1,"v":0.9},{"s":"E20","t":1.5,"v":0.8},{"s":"E20","t":2,"v":0.4},{"s":"E20","t":2.5,"v":0.0},{"s":"E20","t":3,"v":-0.3},{"s":"E20","t":3.5,"v":-0.2},{"s":"E20","t":4,"v":0.3},{"s":"E20","t":4.5,"v":0.8},{"s":"E20","t":5,"v":0.9},{"s":"E20","t":5.5,"v":0.6},{"s":"E20","t":6,"v":0.2},{"s":"E20","t":7,"v":-0.4},{"s":"E20","t":8,"v":-0.5},{"s":"E20","t":9,"v":-0.2},{"s":"E20","t":10,"v":0.2},{"s":"E20","t":11,"v":0.5},{"s":"E20","t":12,"v":0.6},{"s":"E20","t":13,"v":0.4},{"s":"E20","t":14,"v":0.1},{"s":"E20","t":16,"v":-0.1},{"s":"E20","t":18,"v":-0.05},{"s":"E20","t":20,"v":0},{"s":"E20","t":22,"v":0},{"s":"E20","t":25,"v":0},{"s":"E20","t":30,"v":0},{"s":"E20","t":300,"v":0}
]
},
"vconcat":[
{
 "width":1042,"height":346,
 "title":{"text":"State synchronization for MAS with N=10, case (a)","font":"Liberation Sans","fontSize":26,"fontWeight":"bold","color":"#000000","offset":-7},
 "data":{"name":"st"},
 "layer":[
  {"mark":{"type":"line","strokeWidth":2.2,"interpolate":"monotone","clip":true},
   "encoding":{
    "x":{"field":"t","type":"quantitative","scale":{"domain":[0,300],"nice":false,"zero":false},"axis":{"values":[0,50,100,150,200,250,300],"title":"time(s)","grid":true}},
    "y":{"field":"v","type":"quantitative","scale":{"domain":[-4,6],"nice":false,"zero":false},"axis":{"values":[-4,-2,0,2,4,6],"title":"states","grid":true}},
    "color":{"field":"s","type":"nominal","legend":null,"scale":{"domain":["U1","L1","U2","L2","U3","L3","U4","L4","U5","L5","U6","L6","U7","L7","U8","L8","U9","L9","U10","L10"],"range":["#0072BD","#D95319","#EDB120","#7E2F8E","#77AC30","#4DBEEE","#A2142F","#0072BD","#D95319","#EDB120","#7E2F8E","#77AC30","#4DBEEE","#A2142F","#0072BD","#D95319","#EDB120","#7E2F8E","#77AC30","#4DBEEE"]}}
   }},
  {"mark":{"type":"line","strokeOpacity":0},
   "encoding":{
    "x":{"field":"t","type":"quantitative","scale":{"domain":[0,300],"nice":false,"zero":false},"axis":{"orient":"top","values":[0,50,100,150,200,250,300],"labels":false,"grid":false,"title":null}},
    "y":{"field":"v","type":"quantitative","scale":{"domain":[-4,6],"nice":false,"zero":false},"axis":{"orient":"right","values":[-4,-2,0,2,4,6],"labels":false,"grid":false,"title":null}},
    "detail":{"field":"s"}
   }}
 ],
 "resolve":{"axis":{"x":"independent","y":"independent"}}
},
{
 "width":1042,"height":345,
 "data":{"name":"er"},
 "layer":[
  {"mark":{"type":"line","strokeWidth":2.2,"interpolate":"monotone","clip":true},
   "encoding":{
    "x":{"field":"t","type":"quantitative","scale":{"domain":[0,300],"nice":false,"zero":false},"axis":{"values":[0,50,100,150,200,250,300],"title":"time(s)","grid":true}},
    "y":{"field":"v","type":"quantitative","scale":{"domain":[-6,6],"nice":false,"zero":false},"axis":{"values":[-6,-4,-2,0,2,4,6],"title":"errors","grid":true}},
    "color":{"field":"s","type":"nominal","legend":null,"scale":{"domain":["E1","E2","E3","E4","E5","E6","E7","E8","E9","E10","E11","E12","E13","E14","E15","E16","E17","E18","E19","E20"],"range":["#EDB120","#0072BD","#4DBEEE","#7E2F8E","#D95319","#D95319","#A2142F","#EDB120","#77AC30","#A2142F","#4DBEEE","#77AC30","#0072BD","#D95319","#7E2F8E","#EDB120","#A2142F","#0072BD","#77AC30","#7E2F8E"]}}
   }},
  {"mark":{"type":"line","strokeOpacity":0},
   "encoding":{
    "x":{"field":"t","type":"quantitative","scale":{"domain":[0,300],"nice":false,"zero":false},"axis":{"orient":"top","values":[0,50,100,150,200,250,300],"labels":false,"grid":false,"title":null}},
    "y":{"field":"v","type":"quantitative","scale":{"domain":[-6,6],"nice":false,"zero":false},"axis":{"orient":"right","values":[-6,-4,-2,0,2,4,6],"labels":false,"grid":false,"title":null}},
    "detail":{"field":"s"}
   }}
 ],
 "resolve":{"axis":{"x":"independent","y":"independent"}}
}
]
}
